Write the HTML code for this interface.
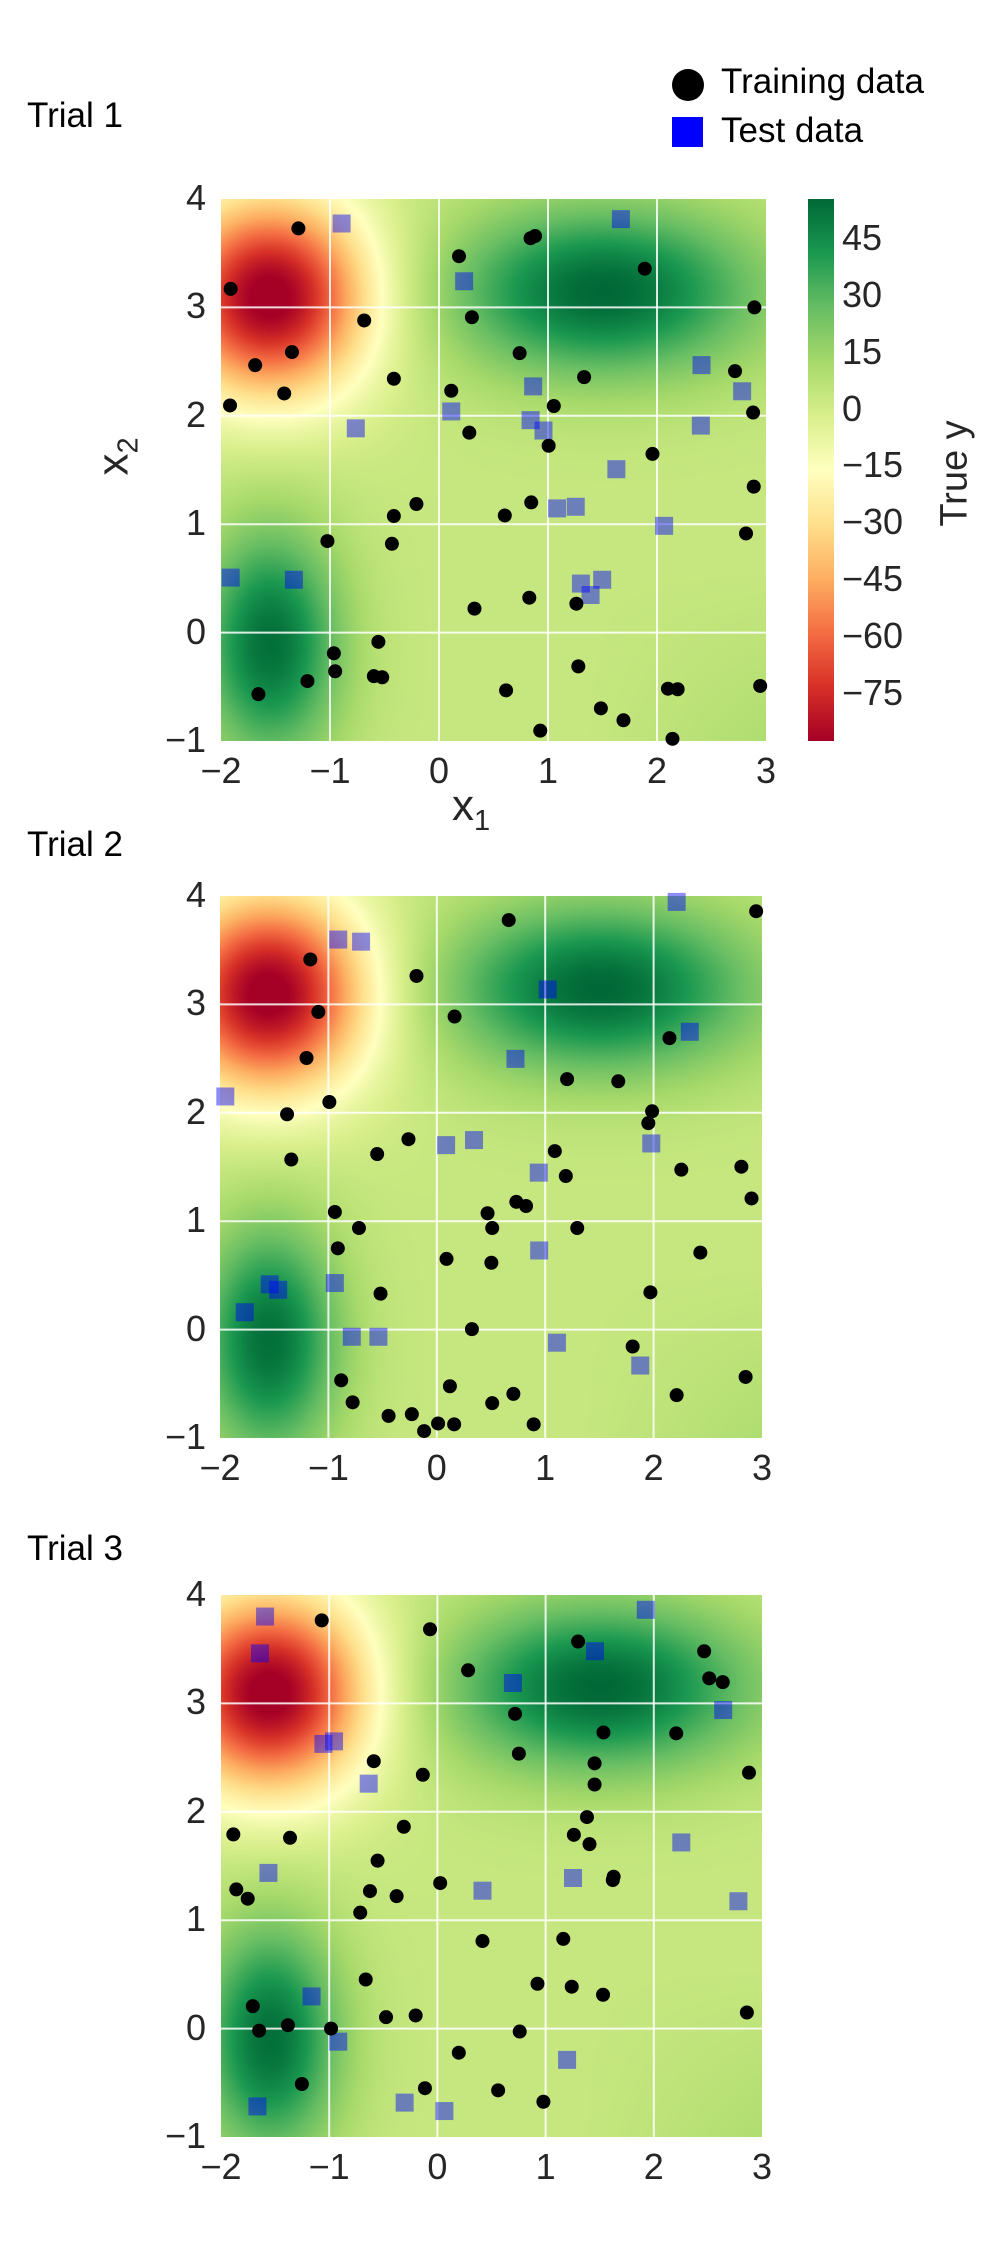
<!DOCTYPE html>
<html><head><meta charset="utf-8">
<style>
body{margin:0;background:#fff;width:1000px;height:2248px;position:relative;overflow:hidden;font-family:"Liberation Sans",sans-serif;color:#262626}
.t{position:absolute;white-space:nowrap}
canvas{position:absolute}
svg{position:absolute;left:0;top:0}
</style></head><body>
<canvas id="c0"></canvas><canvas id="c1"></canvas><canvas id="c2"></canvas>
<div style="position:absolute;left:808px;top:199px;width:26px;height:542px;background:linear-gradient(#006837,#1a9850 10%,#66bd63 20%,#a6d96a 30%,#d9ef8b 40%,#ffffbf 50%,#fee08b 60%,#fdae61 70%,#f46d43 80%,#d73027 90%,#a50026)"></div>
<svg id="s" width="1000" height="2248"></svg>
<div class="t" style="left:27px;top:96px;font-size:35px;color:#000">Trial 1</div>
<div class="t" style="left:27px;top:825px;font-size:35px;color:#000">Trial 2</div>
<div class="t" style="left:27px;top:1529px;font-size:35px;color:#000">Trial 3</div>
<div style="position:absolute;left:672px;top:69px;width:32px;height:32px;border-radius:50%;background:#000"></div>
<div class="t" style="left:721px;top:62px;font-size:35px;color:#000">Training data</div>
<div style="position:absolute;left:672px;top:117px;width:31px;height:30px;background:#0000ff"></div>
<div class="t" style="left:721px;top:111px;font-size:35px;color:#000">Test data</div>
<div class="t" style="left:452px;top:781px;font-size:44px">x<sub style="font-size:29px">1</sub></div>
<div class="t" style="left:98px;top:428px;font-size:44px;transform:rotate(-90deg);transform-origin:center">x<sub style="font-size:29px">2</sub></div>
<div class="t" style="left:895px;top:452px;font-size:38px;transform:rotate(-90deg);transform-origin:center;width:120px;text-align:center">True y</div>
<div id="lab"></div>
<script>
const plots=[{l:221,t:199,w:545,h:542},{l:220,t:896,w:542,h:542},{l:221,t:1595,w:541,h:542}];
const stops=["#a50026","#d73027","#f46d43","#fdae61","#fee08b","#ffffbf","#d9ef8b","#a6d96a","#66bd63","#1a9850","#006837"].map(h=>[parseInt(h.substr(1,2),16),parseInt(h.substr(3,2),16),parseInt(h.substr(5,2),16)]);
function cmap(v){let u=(v+88)/143;u=Math.max(0,Math.min(1,u))*10;let i=Math.min(9,Math.floor(u)),f=u-i;return stops[i].map((c,k)=>c+(stops[i+1][k]-c)*f);}
function F(x,y){
 let r=-95*Math.exp(-((x+1.55)**2+(y-3.1)**2)/(2*0.64**2));
 let g1=52*Math.exp(-((x-1.5)**2/(2*1.0**2)+(y-3.15)**2/(2*0.55**2)));
 let g2=50*Math.exp(-((x+1.55)**2/(2*0.45**2)+(y+0.1)**2/(2*0.75**2)));
 let b=3+2.4*Math.max(0,(x-1.3))*Math.max(0,(0.6-y));
 return r+g1+g2+b;}
plots.forEach((p,k)=>{const c=document.getElementById('c'+k);c.width=p.w;c.height=p.h;c.style.left=p.l+'px';c.style.top=p.t+'px';
 const ctx=c.getContext('2d');const im=ctx.createImageData(p.w,p.h);
 for(let j=0;j<p.h;j++)for(let i=0;i<p.w;i++){const x=-2+5*i/p.w,y=4-5*j/p.h;const col=cmap(F(x,y));const o=(j*p.w+i)*4;im.data[o]=col[0];im.data[o+1]=col[1];im.data[o+2]=col[2];im.data[o+3]=255;}
 ctx.putImageData(im,0,0);});
const s=document.getElementById('s');let html='';let lab='';
plots.forEach(p=>{
 for(let v=-1;v<=2;v++){const x=p.l+(v+2)*p.w/5;html+=`<line x1="${x}" y1="${p.t}" x2="${x}" y2="${p.t+p.h}" stroke="#fff" stroke-opacity="0.85" stroke-width="2"/>`;}
 for(let v=0;v<=3;v++){const y=p.t+(4-v)*p.h/5;html+=`<line x1="${p.l}" y1="${y}" x2="${p.l+p.w}" y2="${y}" stroke="#fff" stroke-opacity="0.85" stroke-width="2"/>`;}
 for(let v=-2;v<=3;v++){const x=p.l+(v+2)*p.w/5;lab+=`<div class="t" style="left:${x-45}px;width:90px;text-align:center;top:${p.t+p.h+9}px;font-size:36px">${v<0?'−'+(-v):v}</div>`;}
 for(let v=-1;v<=4;v++){const y=p.t+(4-v)*p.h/5;lab+=`<div class="t" style="left:110px;width:96px;text-align:right;top:${y-22}px;font-size:36px">${v<0?'−'+(-v):v}</div>`;}
});
[45,30,15,0,-15,-30,-45,-60,-75].forEach(v=>{const y=199+(55.3-v)*3.79;lab+=`<div class="t" style="left:842px;top:${y-21}px;font-size:36px">${v<0?'−'+(-v):v}</div>`;});
document.getElementById('lab').innerHTML=lab;
const P1c=[[463,419],[358,530],[396,670],[453,646],[441,722],[357,744],[565,588],[611,695],[712,470],[732,582],[823,437],[830,433],[1000,493],[1170,564],[806,648],[906,692],[700,717],[859,745],[728,794],[851,818],[1012,833],[1168,757],[1140,681],[1169,893],[1157,979],[646,925],[611,947],[508,993],[608,998],[783,946],[824,922],[736,1117],[821,1097],[894,1108],[587,1178],[518,1199],[520,1232],[477,1250],[580,1241],[593,1243],[401,1274],[785,1267],[897,1223],[932,1300],[967,1322],[1036,1264],[1051,1265],[1179,1259],[838,1341],[1043,1356]];
const P1s=[[530,410],[963,402],[720,516],[1088,670],[1151,718],[827,709],[700,755],[823,771],[843,790],[552,786],[1087,781],[956,861],[864,933],[893,930],[1030,965],[358,1060],[456,1064],[901,1071],[934,1064],[916,1092]];
const P2c=[[848,213],[1433,192],[379,306],[630,345],[398,430],[720,441],[1228,492],[370,539],[986,589],[1107,594],[424,643],[324,672],[1187,665],[1178,693],[611,731],[537,766],[957,759],[334,779],[983,818],[1256,803],[1398,796],[1422,871],[866,879],[889,889],[437,903],[798,906],[494,941],[809,941],[1010,941],[444,989],[1301,999],[701,1014],[807,1023],[545,1096],[1183,1093],[761,1180],[1141,1221],[452,1301],[1408,1293],[709,1315],[479,1353],[859,1333],[809,1355],[1245,1336],[564,1385],[619,1381],[681,1403],[719,1405],[907,1405],[648,1421]];
const P2s=[[1245,170],[445,259],[499,264],[940,377],[1276,477],[864,541],[178,630],[700,745],[766,733],[1185,741],[919,810],[920,994],[437,1071],[283,1074],[303,1087],[224,1140],[477,1198],[540,1198],[962,1212],[1159,1266]];
const P3c=[[406,190],[662,211],[752,308],[1012,240],[1310,263],[1322,327],[1354,336],[863,411],[1072,455],[1244,457],[872,505],[529,523],[645,555],[1051,528],[1051,578],[1416,550],[1033,655],[197,696],[331,704],[600,678],[1002,697],[1039,719],[538,758],[1096,796],[1094,804],[204,826],[231,848],[520,830],[583,842],[686,811],[497,881],[786,948],[977,943],[510,1039],[916,1049],[997,1056],[1071,1075],[243,1102],[258,1160],[326,1147],[428,1155],[558,1128],[628,1124],[874,1162],[1411,1117],[730,1212],[359,1286],[650,1296],[823,1301],[930,1328]];
const P3s=[[272,181],[260,268],[1172,165],[1052,263],[858,338],[1355,402],[435,476],[410,482],[517,576],[1256,715],[280,787],[1000,799],[786,829],[1391,854],[382,1079],[445,1186],[986,1229],[254,1339],[602,1330],[696,1350]];
const m1=([x,y])=>[221+(x-343)*545/845,199+(y-365)*542/995];
const m2=([x,y])=>[150+x/2.364,830+y/2.364];
const m3=([x,y])=>[150+x/2.364,1540+y/2.364];
[[P1c,P1s,m1],[P2c,P2s,m2],[P3c,P3s,m3]].forEach(([C,S,m])=>{
 S.forEach(q=>{const[x,y]=m(q);html+=`<rect x="${x-9}" y="${y-9}" width="18" height="18" fill="#0000ff" fill-opacity="0.45"/>`;});
 C.forEach(q=>{const[x,y]=m(q);html+=`<circle cx="${x}" cy="${y}" r="7" fill="#000"/>`;});
});
s.innerHTML=html;
</script>
</body></html>
